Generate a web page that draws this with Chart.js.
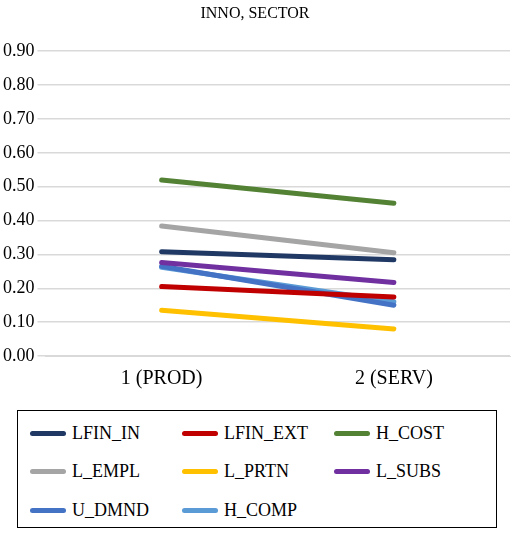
<!DOCTYPE html><html><head><script src="https://cdn.jsdelivr.net/npm/chart.js"></script>
<style>body{margin:0;background:#fff;font-family:"Times New Roman","Liberation Serif","DejaVu Serif",serif}
#w{position:relative;width:520px;height:400px}
#lg{position:absolute;left:17px;top:410px;width:480px;height:118px;border:1px solid #000;box-sizing:border-box;display:grid;grid-template-columns:repeat(3,1fr);padding:12px 10px 0 12px;row-gap:12px;font-size:18px}
.it{display:flex;align-items:center;height:20px}.sw{width:36px;height:5px;border-radius:3px;margin-right:6px}</style></head><body>
<div id="w"><canvas id="c" width="520" height="400"></canvas></div><div id="lg"></div>
<script>
const categories=["1 (PROD)","2 (SERV)"];
const seriesNames=["LFIN_IN","LFIN_EXT","H_COST","L_EMPL","L_PRTN","L_SUBS","U_DMND","H_COMP"];
const LFIN_IN=[0.308,0.284],LFIN_EXT=[0.205,0.174],H_COST=[0.52,0.451],L_EMPL=[0.384,0.305],L_PRTN=[0.135,0.08],L_SUBS=[0.276,0.217],U_DMND=[0.265,0.15],H_COMP=[0.262,0.16];
const colors=["#1f3864","#c00000","#548235","#a5a5a5","#ffc000","#7030a0","#4472c4","#5b9bd5"];
const vals=[LFIN_IN,LFIN_EXT,H_COST,L_EMPL,L_PRTN,L_SUBS,U_DMND,H_COMP];
const F="'Times New Roman', 'Liberation Serif', 'DejaVu Serif', serif";
const lg=document.getElementById('lg');
seriesNames.forEach((n,i)=>{lg.innerHTML+=`<div class="it"><span class="sw" style="background:${colors[i]}"></span>${n}</div>`});
function draw(){
new Chart(document.getElementById('c'),{type:'line',data:{labels:categories,datasets:seriesNames.map((n,i)=>({label:n,data:vals[i],borderColor:colors[i],backgroundColor:colors[i],borderWidth:5,pointRadius:0,borderCapStyle:'round'}))},
options:{responsive:false,animation:false,layout:{padding:{right:10,top:0,left:0,bottom:6}},plugins:{legend:{display:false},title:{display:true,text:'INNO, SECTOR',color:'#000',font:{family:F,size:16,weight:'normal'},padding:{top:4,bottom:28}}},
scales:{x:{offset:true,grid:{display:false},border:{color:'#d9d9d9'},ticks:{color:'#000',font:{family:F,size:20}}},
y:{min:0,max:0.9,ticks:{stepSize:0.1,color:'#000',font:{family:F,size:18},callback:v=>v.toFixed(2)},grid:{color:'#d9d9d9',lineWidth:1.5},border:{display:false}}}}});}
document.fonts.load("18px 'Liberation Serif'").then(draw,draw);
</script></body></html>
